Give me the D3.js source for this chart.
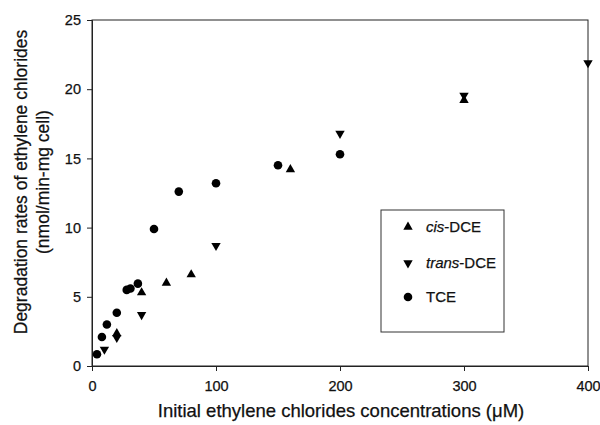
<!DOCTYPE html>
<html>
<head>
<meta charset="utf-8">
<script src="https://cdn.jsdelivr.net/npm/d3@7"></script>
<style>
  body { margin: 0; background: #fff; }
  text { font-family: "Liberation Sans", Arial, sans-serif; fill: #111; stroke: #111; stroke-width: 0.25px; }
</style>
</head>
<body>
<div id="container"></div>
<script>
/* DATA */
// cis-DCE
const cisX = [20, 40, 60, 80, 160, 300]
const cisY = [2.35, 5.3, 6.0, 6.6, 14.2, 19.2]
// trans-DCE
const transX = [10, 20, 40, 100, 200, 300, 400]
const transY = [1.2, 2.05, 3.7, 8.7, 16.8, 19.55, 21.9]
// TCE
const tceX = [4, 8, 12, 20, 28, 31, 37, 50, 70, 100, 150, 200]
const tceY = [0.85, 2.1, 3.0, 3.85, 5.5, 5.6, 5.95, 9.9, 12.6, 13.2, 14.5, 15.3]

const xTicks = [0, 100, 200, 300, 400]
const yTicks = [0, 5, 10, 15, 20, 25]
const legendLabels = [["cis", "-DCE"], ["trans", "-DCE"], ["", "TCE"]]

/* CONSTANTS */
const width = 600,
  height = 425,
  margin = { top: 20, right: 12, bottom: 59, left: 92 }

const svg = d3.select("#container")
  .append("svg")
  .attr("width", width)
  .attr("height", height)

/* SCALES */
const xScale = d3.scaleLinear()
  .domain([0, 400])
  .range([margin.left, width - margin.right])

const yScale = d3.scaleLinear()
  .domain([0, 25])
  .range([height - margin.bottom, margin.top])

// frame (top + right)
svg.append("rect")
  .attr("x", xScale(0))
  .attr("y", yScale(25))
  .attr("width", xScale(400) - xScale(0))
  .attr("height", yScale(0) - yScale(25))
  .attr("fill", "none")
  .attr("stroke", "#222")
  .attr("stroke-width", 1)

/* AXES */
const xAxis = d3.axisBottom(xScale).tickValues(xTicks).tickSize(5).tickPadding(10)
const yAxis = d3.axisLeft(yScale).tickValues(yTicks).tickSize(5).tickPadding(6)

const gx = svg.append("g")
  .attr("transform", `translate(0,${yScale(0)})`)
  .call(xAxis)
const gy = svg.append("g")
  .attr("transform", `translate(${xScale(0)},0)`)
  .call(yAxis)

for (const g of [gx, gy]) {
  g.selectAll("path, line").attr("stroke", "#222")
  g.selectAll("text").attr("font-size", 14.5).attr("fill", "#111")
    .style("font-family", "Liberation Sans, Arial, sans-serif")
}

// axis titles
svg.append("text")
  .attr("x", 341)
  .attr("y", 417)
  .attr("text-anchor", "middle")
  .attr("font-size", 18.5)
  .text("Initial ethylene chlorides concentrations (\u03bcM)")

const yTitle = svg.append("text")
  .attr("transform", "translate(27,182) rotate(-90)")
  .attr("text-anchor", "middle")
  .attr("font-size", 17.5)
yTitle.append("tspan").attr("x", 0).attr("y", 0).text("Degradation rates of ethylene chlorides")
yTitle.append("tspan").attr("x", 0).attr("y", 22).text("(nmol/min-mg cell)")

/* MARKS */
const up = d3.symbol().type(d3.symbolTriangle).size(38)
const circ = d3.symbol().type(d3.symbolCircle).size(58)

svg.selectAll("path.cis")
  .data(d3.zip(cisX, cisY))
  .join("path")
  .attr("class", "cis")
  .attr("d", up)
  .attr("transform", d => `translate(${xScale(d[0])},${yScale(d[1])})`)
  .attr("fill", "#000")

svg.selectAll("path.trans")
  .data(d3.zip(transX, transY))
  .join("path")
  .attr("class", "trans")
  .attr("d", up)
  .attr("transform", d => `translate(${xScale(d[0])},${yScale(d[1])}) rotate(180)`)
  .attr("fill", "#000")

svg.selectAll("path.tce")
  .data(d3.zip(tceX, tceY))
  .join("path")
  .attr("class", "tce")
  .attr("d", circ)
  .attr("transform", d => `translate(${xScale(d[0])},${yScale(d[1])})`)
  .attr("fill", "#000")

/* LEGEND */
const legend = svg.append("g").attr("transform", "translate(381,210)")
legend.append("rect")
  .attr("width", 123)
  .attr("height", 122)
  .attr("fill", "#fff")
  .attr("stroke", "#333")
  .attr("stroke-width", 1)

const rows = [
  { sym: up, rot: 0, y: 17 },
  { sym: up, rot: 180, y: 53 },
  { sym: circ, rot: 0, y: 87 }
]
rows.forEach((r, i) => {
  legend.append("path")
    .attr("d", r.sym)
    .attr("transform", `translate(27,${r.y}) rotate(${r.rot})`)
    .attr("fill", "#000")
  const t = legend.append("text")
    .attr("x", 45)
    .attr("y", r.y + 5)
    .attr("font-size", 15)
  t.append("tspan").attr("font-style", "italic").text(legendLabels[i][0])
  t.append("tspan").text(legendLabels[i][1])
})
</script>
</body>
</html>
